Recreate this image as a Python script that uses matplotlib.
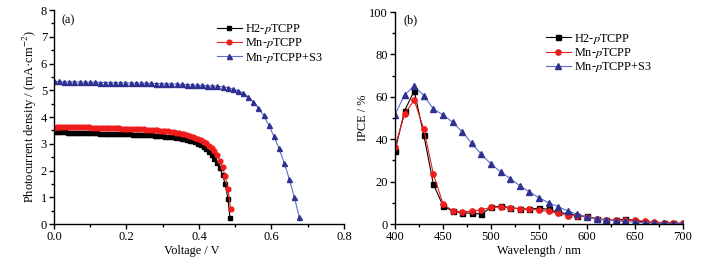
import matplotlib
matplotlib.use("Agg")
import matplotlib.pyplot as plt
from matplotlib.ticker import MultipleLocator, FormatStrFormatter

plt.rcParams['font.family'] = ['Liberation Serif', 'DejaVu Serif']
plt.rcParams['mathtext.fontset'] = 'stix'

# ---- panel (a): J-V curves ----
v_h2 = [0.0000, 0.0075, 0.0150, 0.0225, 0.0300, 0.0375, 0.0450, 0.0525, 0.0600, 0.0675,
        0.0750, 0.0825, 0.0900, 0.0975, 0.1050, 0.1125, 0.1200, 0.1275, 0.1350, 0.1425,
        0.1500, 0.1575, 0.1650, 0.1725, 0.1800, 0.1875, 0.1950, 0.2025, 0.2100, 0.2175,
        0.2250, 0.2325, 0.2400, 0.2475, 0.2550, 0.2625, 0.2700, 0.2775, 0.2850, 0.2925,
        0.3000, 0.3075, 0.3150, 0.3225, 0.3300, 0.3375, 0.3450, 0.3525, 0.3600, 0.3675,
        0.3750, 0.3825, 0.3900, 0.3975, 0.4050, 0.4125, 0.4200, 0.4275, 0.4350, 0.4425,
        0.4500, 0.4575, 0.4650, 0.4725, 0.4800, 0.4855]
j_h2 = [3.45, 3.44, 3.44, 3.43, 3.43, 3.42, 3.42, 3.42, 3.41, 3.41,
        3.41, 3.40, 3.40, 3.40, 3.39, 3.39, 3.39, 3.38, 3.38, 3.38,
        3.37, 3.37, 3.37, 3.36, 3.36, 3.36, 3.35, 3.35, 3.35, 3.34,
        3.34, 3.33, 3.33, 3.32, 3.32, 3.31, 3.31, 3.30, 3.29, 3.29,
        3.28, 3.27, 3.26, 3.25, 3.24, 3.22, 3.21, 3.19, 3.17, 3.15,
        3.12, 3.09, 3.05, 3.00, 2.95, 2.88, 2.80, 2.70, 2.58, 2.44,
        2.28, 2.08, 1.84, 1.48, 0.95, 0.21]

v_mn = [0.0000, 0.0075, 0.0150, 0.0225, 0.0300, 0.0375, 0.0450, 0.0525, 0.0600, 0.0675,
        0.0750, 0.0825, 0.0900, 0.0975, 0.1050, 0.1125, 0.1200, 0.1275, 0.1350, 0.1425,
        0.1500, 0.1575, 0.1650, 0.1725, 0.1800, 0.1875, 0.1950, 0.2025, 0.2100, 0.2175,
        0.2250, 0.2325, 0.2400, 0.2475, 0.2550, 0.2625, 0.2700, 0.2775, 0.2850, 0.2925,
        0.3000, 0.3075, 0.3150, 0.3225, 0.3300, 0.3375, 0.3450, 0.3525, 0.3600, 0.3675,
        0.3750, 0.3825, 0.3900, 0.3975, 0.4050, 0.4125, 0.4200, 0.4275, 0.4350, 0.4425,
        0.4500, 0.4575, 0.4650, 0.4725, 0.4800, 0.4875]
j_mn = [3.60, 3.61, 3.61, 3.62, 3.62, 3.62, 3.62, 3.62, 3.62, 3.62,
        3.61, 3.61, 3.61, 3.61, 3.60, 3.60, 3.60, 3.60, 3.59, 3.59,
        3.59, 3.59, 3.58, 3.58, 3.58, 3.57, 3.57, 3.57, 3.56, 3.56,
        3.55, 3.55, 3.54, 3.54, 3.53, 3.53, 3.52, 3.51, 3.50, 3.49,
        3.48, 3.47, 3.46, 3.45, 3.43, 3.42, 3.40, 3.38, 3.36, 3.33,
        3.30, 3.27, 3.23, 3.19, 3.14, 3.08, 3.01, 2.93, 2.84, 2.72,
        2.57, 2.37, 2.12, 1.78, 1.30, 0.55]

v_s3 = [0.000, 0.014, 0.028, 0.042, 0.056, 0.071, 0.085, 0.099, 0.113, 0.127,
        0.141, 0.155, 0.169, 0.183, 0.197, 0.212, 0.226, 0.240, 0.254, 0.268,
        0.282, 0.296, 0.310, 0.324, 0.338, 0.353, 0.367, 0.381, 0.395, 0.409,
        0.423, 0.437, 0.451, 0.465, 0.479, 0.494, 0.508, 0.522, 0.536, 0.550,
        0.564, 0.578, 0.592, 0.606, 0.620, 0.635, 0.649, 0.663, 0.677]
j_s3 = [5.33, 5.33, 5.32, 5.32, 5.31, 5.31, 5.30, 5.30, 5.30, 5.29,
        5.29, 5.29, 5.28, 5.28, 5.28, 5.27, 5.27, 5.27, 5.26, 5.26,
        5.25, 5.25, 5.24, 5.24, 5.23, 5.22, 5.21, 5.20, 5.19, 5.18,
        5.17, 5.16, 5.15, 5.13, 5.10, 5.05, 4.98, 4.88, 4.73, 4.56,
        4.34, 4.06, 3.71, 3.30, 2.85, 2.29, 1.69, 1.00, 0.25]

# ---- panel (b): IPCE ----
wl = [400, 410, 420, 430, 440, 450, 460, 470, 480, 490, 500, 510, 520, 530, 540, 550,
      560, 570, 580, 590, 600, 610, 620, 630, 640, 650, 660, 670, 680, 690, 700]
ipce_h2 = [34.5, 53.5, 62.8, 41.9, 18.7, 8.6, 6.0, 5.3, 5.0, 4.7, 7.8, 8.5, 7.7, 7.2, 6.9, 7.5,
           6.9, 5.5, 4.9, 3.9, 3.6, 2.5, 2.0, 1.7, 2.4, 1.6, 0.9, 0.6, 0.5, 0.4, 0.3]
ipce_mn = [36.5, 52.0, 58.4, 44.6, 23.5, 9.5, 6.2, 5.8, 6.0, 6.8, 7.8, 8.0, 7.5, 7.2, 7.0, 6.5,
           6.0, 5.0, 4.0, 3.8, 3.3, 2.5, 1.8, 1.8, 1.8, 1.8, 1.3, 0.8, 0.6, 0.5, 0.3]
ipce_s3 = [51.5, 61.0, 65.1, 60.6, 54.2, 51.5, 48.0, 43.5, 38.0, 32.8, 28.3, 24.6, 21.4, 18.0,
           15.1, 12.4, 10.0, 8.2, 6.1, 4.6, 3.3, 2.5, 1.8, 1.5, 1.2, 0.9, 0.6, 0.4, 0.3, 0.2, 0.1]

labels = ['H2-$p$TCPP', 'Mn-$p$TCPP', 'Mn-$p$TCPP+S3']
BLACK = '#000000'
RED = '#ee1c1c'
BLUE = '#2e3192'
LINE_BLUE = '#5a6fc8'
FS = 8.8

fig = plt.figure(figsize=(7.19, 2.65), dpi=100)
ax1 = fig.add_axes([0.0751, 0.1547, 0.4033, 0.8075])
ax2 = fig.add_axes([0.5494, 0.1547, 0.4006, 0.80])


def style_axis(ax):
    for side in ['top', 'right']:
        ax.spines[side].set_visible(False)
    for side in ['left', 'bottom']:
        ax.spines[side].set_linewidth(1.0)
    ax.tick_params(which='major', direction='out', length=3.5, width=1.0,
                   labelsize=9, pad=1.5)
    ax.tick_params(which='minor', direction='out', length=2, width=1.0)


def add_legend(ax, x, y):
    ax.legend(loc='upper left', bbox_to_anchor=(x, y), frameon=False, fontsize=FS,
              handlelength=2.05, handletextpad=0.25, labelspacing=0.03,
              borderpad=0, borderaxespad=0)


ax1.plot(v_h2, j_h2, '-s', color=BLACK, lw=0.8, ms=3.2, label=labels[0])
ax1.plot(v_mn, j_mn, '-o', color=RED, mec=RED, lw=0.8, ms=3.4, label=labels[1])
ax1.plot(v_s3, j_s3, '-^', color=LINE_BLUE, mfc=BLUE, mec=BLUE, lw=0.8, ms=3.6, label=labels[2])
ax1.set_xlim(0, 0.8)
ax1.set_ylim(0, 8)
ax1.xaxis.set_major_locator(MultipleLocator(0.2))
ax1.xaxis.set_minor_locator(MultipleLocator(0.1))
ax1.yaxis.set_major_locator(MultipleLocator(1))
ax1.yaxis.set_minor_locator(MultipleLocator(0.5))
ax1.xaxis.set_major_formatter(FormatStrFormatter('%.1f'))
style_axis(ax1)
ax1.set_xlabel('Voltage / V', fontsize=FS, labelpad=1.5)
ax1.xaxis.label.set_x(0.476)
ax1.set_ylabel('Photocurrent density / (mA·cm$^{-2}$)', fontsize=9, labelpad=1)
ax1.text(0.027, 0.95, '(a)', transform=ax1.transAxes, fontsize=FS, va='center')
add_legend(ax1, 0.562, 0.944)

ax2.plot(wl, ipce_h2, '-s', color=BLACK, lw=0.8, ms=3.6, label=labels[0])
ax2.plot(wl, ipce_mn, '-o', color=RED, mec=RED, lw=0.8, ms=3.8, label=labels[1])
ax2.plot(wl, ipce_s3, '-^', color=LINE_BLUE, mfc=BLUE, mec=BLUE, lw=0.8, ms=4.2, label=labels[2])
ax2.set_xlim(400, 700)
ax2.set_ylim(0, 100)
ax2.xaxis.set_major_locator(MultipleLocator(50))
ax2.xaxis.set_minor_locator(MultipleLocator(25))
ax2.yaxis.set_major_locator(MultipleLocator(20))
ax2.yaxis.set_minor_locator(MultipleLocator(10))
style_axis(ax2)
ax2.set_xlabel('Wavelength / nm', fontsize=FS, labelpad=1.5)
ax2.set_ylabel('IPCE / %', fontsize=FS, labelpad=0.5)
ax2.text(0.028, 0.962, '(b)', transform=ax2.transAxes, fontsize=FS, va='center')
add_legend(ax2, 0.524, 0.908)

fig.savefig('out.png', dpi=100)
